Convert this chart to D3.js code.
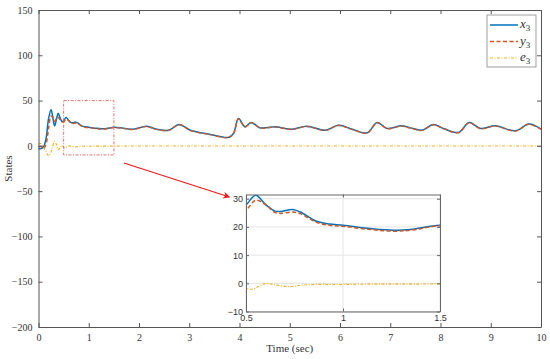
<!DOCTYPE html>
<html>
<head>
<meta charset="utf-8">
<script src="https://cdn.jsdelivr.net/npm/d3@7"></script>
<style>
  body { margin: 0; background: #fff; }
  svg { display: block; }
</style>
</head>
<body>
<div id="chart"></div>
<script>
// time samples shared by x3 and y3 (sec)
const t = [0, 0.05, 0.1, 0.15, 0.2, 0.25, 0.28, 0.32, 0.36, 0.39, 0.43, 0.47,
  0.5, 0.55, 0.6, 0.65, 0.68, 0.74, 0.78, 0.86, 0.93, 1.0, 1.14, 1.26, 1.36, 1.5,
  1.69, 1.89, 2.15, 2.35, 2.59, 2.8, 3.02, 3.42, 3.78, 3.88, 3.98, 4.11, 4.23, 4.41,
  4.51, 4.71, 5.04, 5.34, 5.71, 5.97, 6.24, 6.54, 6.74, 6.94, 7.22, 7.4, 7.63, 7.86,
  8.06, 8.36, 8.57, 8.8, 9.09, 9.49, 9.76, 10];

const x3 = [-3, -3, -1, 8, 30, 40, 33, 22, 30, 36, 31, 26.5,
  27.8, 31.2, 28, 25.6, 25.5, 26.2, 25.3, 22.1, 21, 20.6, 19.4, 18.8, 19.2, 20.6,
  19.5, 18.4, 21.7, 18.4, 17.3, 23.6, 17.3, 12.6, 9.3, 13.7, 30.2, 21, 25.8, 19.8,
  19.9, 21, 18.4, 21.7, 17.3, 22.8, 18.4, 14.4, 25.8, 19.2, 22.1, 19.9, 17.3, 23.6,
  19.2, 14.8, 25.8, 19.2, 22.1, 16.6, 24, 18.4];

const y3 = [-1, -0.5, -3, 2, 19, 33, 32, 27, 31, 31.5, 29, 27,
  26.2, 29.5, 28, 25.1, 24.8, 25.3, 24.7, 21.7, 20.6, 20.2, 19.1, 18.5, 18.9, 20.4,
  19.3, 18.2, 21.5, 18.2, 17.1, 23.4, 17.1, 12.4, 9.1, 13.4, 29.8, 20.8, 25.6, 19.6,
  19.7, 20.8, 18.2, 21.5, 17.1, 22.6, 18.2, 14.2, 25.6, 19, 21.9, 19.7, 17.1, 23.4,
  19, 14.6, 25.6, 19, 21.9, 16.4, 23.8, 18.2];

// error signal has its own (denser early) samples
const tE = [0, 0.05, 0.1, 0.15, 0.2, 0.25, 0.28, 0.32, 0.36, 0.39, 0.43, 0.47,
  0.5, 0.53, 0.6, 0.65, 0.72, 0.78, 0.86, 0.93, 1.0, 1.14, 1.26, 1.36, 1.5, 3, 5, 7, 10];
const e3 = [2, 2.5, -2, -6, -11, -7, -1, 5, 1, -4.5, -2, 0.5,
  -1.6, -2.1, -0.1, -0.5, -1.2, -0.7, -0.4, -0.4, -0.4, -0.3, -0.3, -0.3, -0.2, -0.2, -0.2, -0.2, -0.2];

const xTicks = [0, 1, 2, 3, 4, 5, 6, 7, 8, 9, 10];
const yTicks = [-200, -150, -100, -50, 0, 50, 100, 150];
const insetXTicks = [0.5, 1, 1.5];
const insetYTicks = [-10, 0, 10, 20, 30];

const seriesNames = ["x", "y", "e"];
const colors = ["#0072BD", "#D95319", "#EDB120"];
const dashes = [null, "4,2.5", "3,1.5,1,1.5"];

const W = 550, H = 359;
const svg = d3.select("#chart").append("svg").attr("width", W).attr("height", H);

const x = d3.scaleLinear().domain([0, 10]).range([38.5, 541]);
const y = d3.scaleLinear().domain([-200, 150]).range([327, 10]);

const axisCol = "#555";
const serif = "Liberation Serif, Times New Roman, serif";
const minus = d => d < 0 ? "\u2212" + Math.abs(d) : String(d);

const series = [
  t.map((d, i) => [d, x3[i]]),
  t.map((d, i) => [d, y3[i]]),
  tE.map((d, i) => [d, e3[i]])
];

// main plot lines
const line = d3.line().curve(d3.curveCatmullRom.alpha(0.5)).x(d => x(d[0])).y(d => y(d[1]));
series.forEach((s, i) => {
  svg.append("path").datum(s)
    .attr("fill", "none")
    .attr("stroke", colors[i])
    .attr("stroke-width", i == 2 ? 1.1 : 1.5)
    .attr("stroke-dasharray", dashes[i])
    .attr("d", line);
});

// main axes (box with inward ticks)
const gx = svg.append("g").attr("transform", "translate(0," + y.range()[0] + ")")
  .call(d3.axisBottom(x).tickValues(xTicks).tickSizeInner(-4).tickSizeOuter(0).tickPadding(7));
const gy = svg.append("g").attr("transform", "translate(" + x.range()[0] + ",0)")
  .call(d3.axisLeft(y).tickValues(yTicks).tickSizeInner(-4).tickSizeOuter(0).tickPadding(6).tickFormat(minus));
const gxt = svg.append("g").attr("transform", "translate(0," + y.range()[1] + ")")
  .call(d3.axisTop(x).tickValues(xTicks).tickSizeInner(-4).tickSizeOuter(0).tickFormat(""));
const gyr = svg.append("g").attr("transform", "translate(" + x.range()[1] + ",0)")
  .call(d3.axisRight(y).tickValues(yTicks).tickSizeInner(-4).tickSizeOuter(0).tickFormat(""));
[gx, gy, gxt, gyr].forEach(g => {
  g.attr("font-family", serif).attr("font-size", 10);
  g.select(".domain").attr("stroke", axisCol).attr("stroke-width", 1);
  g.selectAll(".tick line").attr("stroke", axisCol);
  g.selectAll(".tick text").attr("fill", "#333");
});

svg.append("text").attr("x", (x.range()[0] + x.range()[1]) / 2).attr("y", 352)
  .attr("text-anchor", "middle").attr("font-family", serif).attr("font-size", 11)
  .attr("fill", "#333").text("Time (sec)");
svg.append("text").attr("transform", "translate(12," + (y.range()[0] + y.range()[1]) / 2 + ") rotate(-90)")
  .attr("text-anchor", "middle").attr("font-family", serif).attr("font-size", 11)
  .attr("fill", "#333").text("States");

// zoom region rectangle
const zoomBox = { x0: 0.5, x1: 1.5, y0: -10, y1: 50 };
svg.append("rect")
  .attr("x", x(zoomBox.x0)).attr("y", y(zoomBox.y1))
  .attr("width", x(zoomBox.x1) - x(zoomBox.x0)).attr("height", y(zoomBox.y0) - y(zoomBox.y1))
  .attr("fill", "none").attr("stroke", "#f26d6d").attr("stroke-width", 1)
  .attr("stroke-dasharray", "3,1.5,1,1.5");

// arrow to inset
svg.append("defs").append("marker").attr("id", "ah")
  .attr("viewBox", "0 0 10 10").attr("refX", 9).attr("refY", 5)
  .attr("markerWidth", 9).attr("markerHeight", 7).attr("orient", "auto")
  .attr("markerUnits", "userSpaceOnUse")
  .append("path").attr("d", "M0,0 L10,5 L0,10 L3,5 Z").attr("fill", "#f01818");
svg.append("line")
  .attr("x1", x(1.7)).attr("y1", y(-19))
  .attr("x2", x(3.8)).attr("y2", y(-56.5))
  .attr("stroke", "#f01818").attr("stroke-width", 1.1).attr("marker-end", "url(#ah)");

// legend
const lg = svg.append("g");
lg.append("rect").attr("x", 487).attr("y", 15).attr("width", 49).attr("height", 52)
  .attr("fill", "#fff").attr("stroke", "#888").attr("stroke-width", 0.8);
seriesNames.forEach((n, i) => {
  const ly = 25 + i * 16.5;
  lg.append("line").attr("x1", 490).attr("x2", 518).attr("y1", ly).attr("y2", ly)
    .attr("stroke", colors[i]).attr("stroke-width", i == 2 ? 1.1 : 1.5)
    .attr("stroke-dasharray", dashes[i]);
  const tx = lg.append("text").attr("x", 520).attr("y", ly + 3)
    .attr("font-family", serif).attr("font-size", 13).attr("fill", "#333");
  tx.append("tspan").attr("font-style", "italic").text(n);
  tx.append("tspan").attr("dy", 3).attr("font-size", 9).text("3");
});

// inset axes
const ix = d3.scaleLinear().domain([0.5, 1.5]).range([246, 440]);
const iy = d3.scaleLinear().domain([-10, 31.5]).range([311.5, 194.5]);
const inset = svg.append("g");
inset.append("rect").attr("x", ix.range()[0]).attr("y", iy.range()[1])
  .attr("width", ix.range()[1] - ix.range()[0]).attr("height", iy.range()[0] - iy.range()[1])
  .attr("fill", "#fff");
inset.append("clipPath").attr("id", "ic").append("rect")
  .attr("x", ix.range()[0]).attr("y", iy.range()[1])
  .attr("width", ix.range()[1] - ix.range()[0]).attr("height", iy.range()[0] - iy.range()[1]);

// grid
inset.selectAll(".gx").data(insetXTicks).enter().append("line")
  .attr("x1", d => ix(d)).attr("x2", d => ix(d))
  .attr("y1", iy.range()[0]).attr("y2", iy.range()[1]).attr("stroke", "#e3e3e3");
inset.selectAll(".gy").data(insetYTicks).enter().append("line")
  .attr("y1", d => iy(d)).attr("y2", d => iy(d))
  .attr("x1", ix.range()[0]).attr("x2", ix.range()[1]).attr("stroke", "#e3e3e3");

const iline = d3.line().curve(d3.curveCatmullRom.alpha(0.5)).x(d => ix(d[0])).y(d => iy(d[1]));
const ilines = inset.append("g").attr("clip-path", "url(#ic)");
series.forEach((s, i) => {
  ilines.append("path").datum(s)
    .attr("fill", "none")
    .attr("stroke", colors[i])
    .attr("stroke-width", i == 2 ? 1.1 : 1.5)
    .attr("stroke-dasharray", dashes[i])
    .attr("d", iline);
});

const sans = "Liberation Sans, Arial, sans-serif";
const igx = inset.append("g").attr("transform", "translate(0," + iy.range()[0] + ")")
  .call(d3.axisBottom(ix).tickValues(insetXTicks).tickSizeInner(-3).tickSizeOuter(0).tickPadding(3).tickFormat(String));
const igy = inset.append("g").attr("transform", "translate(" + ix.range()[0] + ",0)")
  .call(d3.axisLeft(iy).tickValues(insetYTicks).tickSizeInner(-3).tickSizeOuter(0).tickPadding(3).tickFormat(minus));
const igxt = inset.append("g").attr("transform", "translate(0," + iy.range()[1] + ")")
  .call(d3.axisTop(ix).tickValues(insetXTicks).tickSizeInner(-3).tickSizeOuter(0).tickFormat(""));
const igyr = inset.append("g").attr("transform", "translate(" + ix.range()[1] + ",0)")
  .call(d3.axisRight(iy).tickValues(insetYTicks).tickSizeInner(-3).tickSizeOuter(0).tickFormat(""));
[igx, igy, igxt, igyr].forEach(g => {
  g.attr("font-family", sans).attr("font-size", 9);
  g.select(".domain").attr("stroke", "#666").attr("stroke-width", 1);
  g.selectAll(".tick line").attr("stroke", "#666");
  g.selectAll(".tick text").attr("fill", "#333");
});
</script>
</body>
</html>
